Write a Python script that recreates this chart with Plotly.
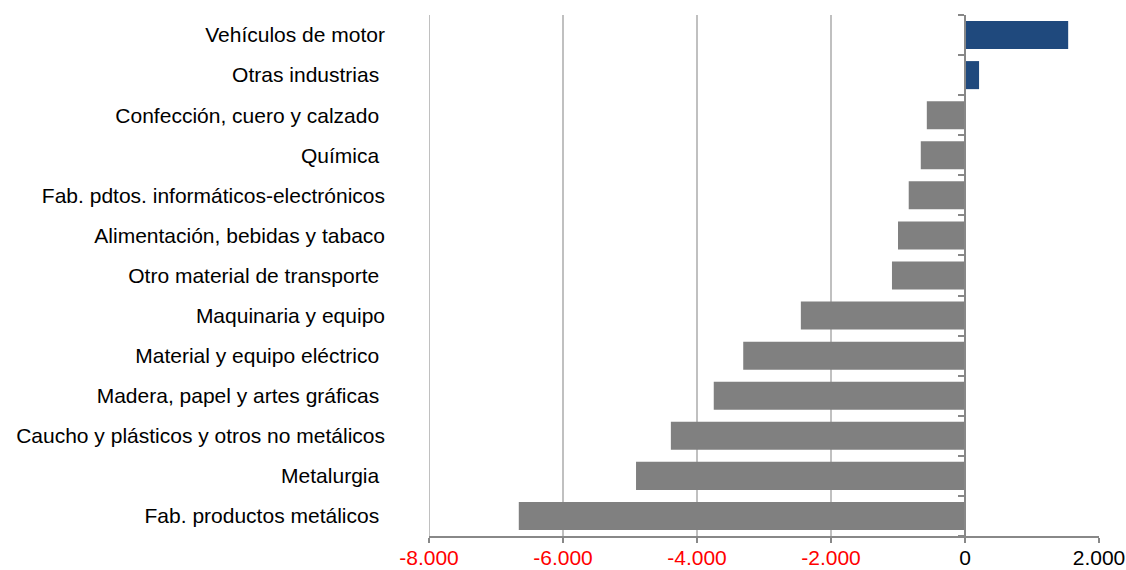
import plotly.graph_objects as go

categories = [
    "Vehículos de motor",
    "Otras industrias ",
    "Confección, cuero y calzado ",
    "Química ",
    "Fab. pdtos. informáticos-electrónicos",
    "Alimentación, bebidas y tabaco",
    "Otro material de transporte ",
    "Maquinaria y equipo",
    "Material y equipo eléctrico ",
    "Madera, papel y artes gráficas ",
    "Caucho y plásticos y otros no metálicos",
    "Metalurgia ",
    "Fab. productos metálicos ",
]
values = [1540, 210, -570, -660, -840, -1000, -1090, -2450, -3310, -3750, -4390, -4910, -6660]
tick_vals = [-8000, -6000, -4000, -2000, 0, 2000]
tick_text = ["-8.000", "-6.000", "-4.000", "-2.000", "0", "2.000"]

POS = "#1F497D"
NEG = "#808080"
colors = [POS if v > 0 else NEG for v in values]
ticktext_col = [f'<span style="color:#FF0000">{t}</span>' if v < 0 else t
                for v, t in zip(tick_vals, tick_text)]

n = len(categories)
fig = go.Figure()
fig.add_trace(go.Bar(
    x=values, y=list(range(n)), orientation="h",
    marker=dict(color=colors, line=dict(width=0)),
    hoverinfo="x", showlegend=False,
))
# invisible trace to draw the zero-line axis with category separators
fig.add_trace(go.Scatter(x=[0], y=[0], yaxis="y2", mode="markers",
                         marker=dict(opacity=0), hoverinfo="skip", showlegend=False))

# gridline at the left edge (plotly clips edge gridlines)
fig.add_shape(type="line", xref="x", yref="paper", x0=tick_vals[0], x1=tick_vals[0],
              y0=0, y1=1, line=dict(color="#C0C0C0", width=2), layer="below")

fig.update_layout(
    width=1126, height=570,
    margin=dict(l=429, r=27, t=15, b=34),
    paper_bgcolor="white", plot_bgcolor="white",
    font=dict(family="Liberation Sans, Arial, sans-serif", size=21, color="black"),
    bargap=0.3,
    xaxis=dict(
        range=[-8000, 2000], tickvals=tick_vals, ticktext=ticktext_col,
        showgrid=True, gridcolor="#C0C0C0", gridwidth=2, automargin=False,
        zeroline=False, showline=True, linecolor="#888888", linewidth=2,
        ticks="outside", ticklen=5, tickwidth=2, tickcolor="#888888",
        ticklabelstandoff=-3, tickfont=dict(size=21),
    ),
    yaxis=dict(
        range=[n - 0.5, -0.5], tickvals=list(range(n)), ticktext=categories,
        showgrid=False, zeroline=False, showline=False, ticks="", automargin=False,
        ticklabelstandoff=43, tickfont=dict(size=21),
    ),
    yaxis2=dict(
        overlaying="y", anchor="free", position=0.8, automargin=False,
        range=[n - 0.5, -0.5],
        tickvals=[i - 0.5 for i in range(n + 1)],
        showticklabels=False, showgrid=False, zeroline=False,
        showline=True, linecolor="#888888", linewidth=2,
        ticks="outside", ticklen=6, tickwidth=2, tickcolor="#888888",
    ),
)

fig.write_html(
    "out.html",
    config={"displayModeBar": False},
    post_script="document.body.style.margin='0';document.body.style.overflow='hidden';",
)
